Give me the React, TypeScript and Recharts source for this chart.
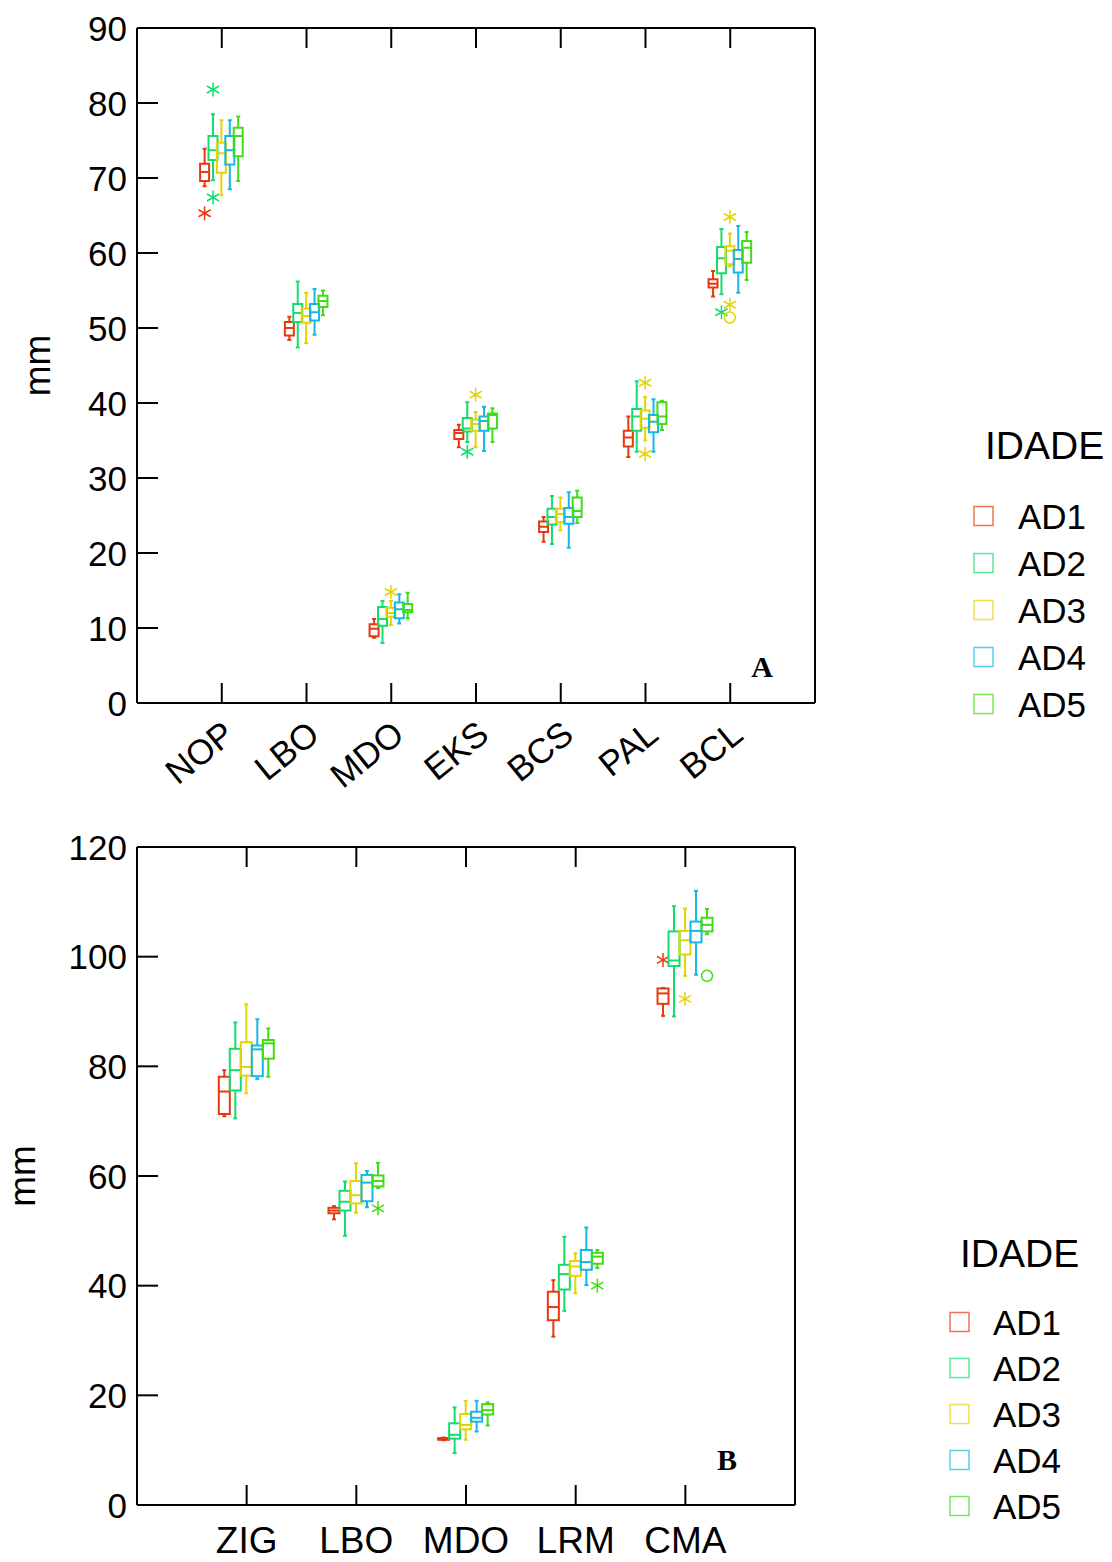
import React from "react";
import { BarChart, Bar, XAxis, YAxis } from "recharts";

const FONT = '"Liberation Sans", Arial, Helvetica, sans-serif';

const series = ["AD1", "AD2", "AD3", "AD4", "AD5"];
const colors = ["#E8380E", "#14DC6E", "#E6D400", "#14B8E6", "#40DC14"];

// Panel A -------------------------------------------------------------
const catsA = ["NOP", "LBO", "MDO", "EKS", "BCS", "PAL", "BCL"];
const ticksA = [0, 10, 20, 30, 40, 50, 60, 70, 80, 90];

// [min, q1, median, q3, max] for each category
const ad1A = [
  [68.9, 69.6, 70.8, 71.9, 73.9],
  [48.4, 49.0, 50.0, 50.8, 51.5],
  [8.7, 8.9, 9.9, 10.5, 11.2],
  [34.1, 35.2, 36.0, 36.4, 37.1],
  [21.5, 22.8, 23.5, 24.2, 24.8],
  [32.8, 34.2, 35.4, 36.3, 38.2],
  [54.2, 55.4, 55.9, 56.5, 57.6],
];
const ad2A = [
  [69.7, 72.4, 73.7, 75.6, 78.5],
  [47.4, 50.8, 52.0, 53.2, 56.2],
  [8.0, 10.3, 11.2, 12.8, 13.6],
  [34.8, 36.2, 36.6, 38.0, 40.1],
  [21.2, 23.8, 24.8, 25.9, 27.6],
  [33.5, 36.3, 38.2, 39.2, 42.9],
  [54.5, 57.3, 59.3, 60.8, 63.2],
];
const ad3A = [
  [67.7, 70.7, 73.3, 74.7, 77.7],
  [48.0, 50.7, 51.6, 52.6, 54.7],
  [10.4, 11.5, 12.0, 12.7, 13.6],
  [34.1, 36.3, 37.2, 37.8, 38.8],
  [23.0, 24.1, 25.2, 25.9, 27.4],
  [35.0, 36.7, 37.9, 39.0, 40.8],
  [58.2, 58.5, 60.3, 60.9, 62.6],
];
const ad4A = [
  [68.5, 71.8, 73.7, 75.6, 77.7],
  [49.1, 51.0, 52.1, 53.2, 55.2],
  [10.6, 11.3, 12.5, 13.4, 14.5],
  [33.6, 36.3, 37.6, 38.2, 39.5],
  [20.7, 23.9, 24.8, 26.0, 28.1],
  [33.5, 36.1, 37.5, 38.4, 40.5],
  [54.7, 57.4, 59.2, 60.4, 63.6],
];
const ad5A = [
  [69.6, 72.9, 75.6, 76.7, 78.2],
  [51.7, 52.8, 53.6, 54.3, 55.0],
  [11.3, 12.1, 12.4, 13.2, 14.7],
  [34.8, 36.6, 38.4, 38.6, 39.3],
  [24.0, 24.8, 25.6, 27.4, 28.3],
  [36.4, 37.2, 38.2, 40.1, 40.3],
  [56.4, 58.7, 60.7, 61.6, 62.8],
];
// [series index, category index, value, marker]
const outliersA = [
  [0, 0, 65.3, "star"],
  [1, 0, 81.8, "star"],
  [1, 0, 67.4, "star"],
  [2, 2, 14.8, "star"],
  [1, 3, 33.5, "star"],
  [2, 3, 41.1, "star"],
  [2, 5, 42.7, "star"],
  [2, 5, 33.2, "star"],
  [1, 6, 52.1, "star"],
  [2, 6, 64.8, "star"],
  [2, 6, 53.1, "star"],
  [2, 6, 51.4, "circle"],
];

// Panel B -------------------------------------------------------------
const catsB = ["ZIG", "LBO", "MDO", "LRM", "CMA"];
const ticksB = [0, 20, 40, 60, 80, 100, 120];

const ad1B = [
  [70.9, 71.3, 75.4, 78.1, 79.3],
  [52.1, 53.2, 53.7, 54.2, 54.5],
  [11.8, 11.9, 12.0, 12.2, 12.3],
  [30.7, 33.7, 36.1, 38.9, 41.0],
  [89.2, 91.4, 93.3, 94.2, 94.3],
];
const ad2B = [
  [70.5, 75.6, 79.3, 83.2, 88.0],
  [49.1, 53.7, 55.3, 57.3, 59.0],
  [9.5, 12.1, 12.8, 14.9, 17.8],
  [35.4, 39.3, 42.1, 43.8, 48.9],
  [89.1, 98.3, 99.3, 104.6, 109.2],
];
const ad3B = [
  [75.1, 78.3, 79.9, 84.4, 91.3],
  [53.3, 55.0, 56.5, 59.1, 62.3],
  [11.9, 13.8, 14.6, 16.6, 19.0],
  [38.6, 41.8, 43.5, 44.5, 45.9],
  [96.5, 100.4, 103.0, 104.7, 108.8],
];
const ad4B = [
  [77.7, 78.2, 83.1, 83.8, 88.6],
  [54.3, 55.4, 58.8, 60.2, 60.9],
  [13.4, 15.2, 15.9, 17.0, 19.0],
  [40.1, 42.9, 44.3, 46.5, 50.6],
  [96.7, 102.6, 104.7, 106.4, 112.0],
];
const ad5B = [
  [78.1, 81.4, 84.2, 84.8, 86.9],
  [57.8, 58.1, 59.1, 60.1, 62.4],
  [14.5, 16.5, 17.3, 18.4, 18.7],
  [43.2, 44.0, 45.3, 46.0, 46.5],
  [104.1, 104.6, 105.8, 107.1, 108.7],
];
const outliersB = [
  [4, 1, 54.1, "star"],
  [4, 3, 40.0, "star"],
  [0, 4, 99.4, "star"],
  [2, 4, 92.3, "star"],
  [4, 4, 96.5, "circle"],
];

function buildRows(cats: string[], boxes: number[][][], outs: any[]) {
  return cats.map((cat, i) => {
    const row: any = { cat };
    series.forEach((s, si) => {
      row[s] = boxes[si][i];
      row["o_" + s] = outs.filter((o) => o[0] === si && o[1] === i).map((o) => [o[2], o[3]]);
    });
    return row;
  });
}

const rowsA = buildRows(catsA, [ad1A, ad2A, ad3A, ad4A, ad5A], outliersA);
const rowsB = buildRows(catsB, [ad1B, ad2B, ad3B, ad4B, ad5B], outliersB);

// box drawn inside the range bar [min, max]; other values use the same linear scale
function BoxShape(props: any) {
  const { x, y, width, height, payload, sk, color, boxW } = props;
  const b = payload && payload[sk];
  if (!b) return null;
  const [mn, q1, md, q3, mx] = b;
  const top = Math.min(y, y + height);
  const h = Math.abs(height);
  const py = (v: number) => (mx === mn ? top : top + ((mx - v) / (mx - mn)) * h);
  const cx = x + width / 2;
  const hw = boxW / 2;
  const outs = payload["o_" + sk] || [];
  return (
    <g>
      <line x1={cx} x2={cx} y1={py(mx)} y2={py(q3)} stroke={color} strokeWidth={2} />
      <line x1={cx} x2={cx} y1={py(q1)} y2={py(mn)} stroke={color} strokeWidth={2} />
      <line x1={cx - 2} x2={cx + 2} y1={py(mx)} y2={py(mx)} stroke={color} strokeWidth={2} />
      <line x1={cx - 2} x2={cx + 2} y1={py(mn)} y2={py(mn)} stroke={color} strokeWidth={2} />
      <rect x={cx - hw} y={py(q3)} width={boxW} height={Math.max(py(q1) - py(q3), 1)} fill="none" stroke={color} strokeWidth={2} />
      <line x1={cx - hw} x2={cx + hw} y1={py(md)} y2={py(md)} stroke={color} strokeWidth={2} />
      {outs.map((o: any, i: number) => {
        const oy = py(o[0]);
        if (o[1] === "circle") {
          return <circle key={i} cx={cx} cy={oy} r={5.5} fill="none" stroke={color} strokeWidth={1.5} />;
        }
        const r = 7;
        const dx = r * Math.cos(Math.PI / 6);
        const dy = r * Math.sin(Math.PI / 6);
        return (
          <g key={i} stroke={color} strokeWidth={1.5}>
            <line x1={cx} x2={cx} y1={oy - r} y2={oy + r} />
            <line x1={cx - dx} x2={cx + dx} y1={oy - dy} y2={oy + dy} />
            <line x1={cx - dx} x2={cx + dx} y1={oy + dy} y2={oy - dy} />
          </g>
        );
      })}
    </g>
  );
}

const LeftTick = (p: any) => (
  <g>
    <line x1={p.x + 10} x2={p.x + 31} y1={p.y} y2={p.y} stroke="#000" strokeWidth={2} />
    <text x={p.x} y={p.y} dy="0.36em" textAnchor="end" fontSize={35} fontFamily={FONT} fill="#000">
      {p.payload.value}
    </text>
  </g>
);

const RightTick = (p: any) => (
  <line x1={p.x - 20} x2={p.x} y1={p.y} y2={p.y} stroke="#000" strokeWidth={2} />
);

const TopTick = (p: any) => (
  <line x1={p.x} x2={p.x} y1={p.y} y2={p.y + 20} stroke="#000" strokeWidth={2} />
);

const BottomTickA = (p: any) => {
  const ax = p.x + 15;
  const ay = p.y + 35;
  return (
    <g>
      <line x1={p.x} x2={p.x} y1={p.y} y2={p.y - 20} stroke="#000" strokeWidth={2} />
      <text x={ax} y={ay} transform={`rotate(-39 ${ax} ${ay})`} textAnchor="end" fontSize={35} fontFamily={FONT} fill="#000">
        {p.payload.value}
      </text>
    </g>
  );
};

const BottomTickB = (p: any) => (
  <g>
    <line x1={p.x} x2={p.x} y1={p.y} y2={p.y - 20} stroke="#000" strokeWidth={2} />
    <text x={p.x} y={p.y + 48} textAnchor="middle" fontSize={37} fontFamily={FONT} fill="#000">
      {p.payload.value}
    </text>
  </g>
);

const mmLabel = (shift: number) => (p: any) => {
  const vb = p.viewBox || {};
  const cx = vb.x - shift;
  const cy = vb.y + vb.height / 2;
  return (
    <text x={cx} y={cy} dy="0.27em" transform={`rotate(-90 ${cx} ${cy})`} textAnchor="middle" fontSize={37} fontFamily={FONT} fill="#000">
      mm
    </text>
  );
};

function BoxPanel(props: any) {
  const { rows, ticks, domain, width, height, margin, pad, barSize, boxW, bottomTick, xHeight, mmShift } = props;
  return (
    <BarChart width={width} height={height} data={rows} margin={margin} barGap={0}>
      <XAxis
        dataKey="cat"
        interval={0}
        padding={{ left: pad, right: pad }}
        height={xHeight}
        tickSize={0}
        tickMargin={0}
        tickLine={false}
        axisLine={{ stroke: "#000", strokeWidth: 2 }}
        tick={bottomTick}
      />
      <XAxis
        xAxisId="top"
        orientation="top"
        dataKey="cat"
        interval={0}
        padding={{ left: pad, right: pad }}
        height={10}
        tickSize={0}
        tickMargin={0}
        tickLine={false}
        axisLine={{ stroke: "#000", strokeWidth: 2 }}
        tick={TopTick}
      />
      <YAxis
        type="number"
        domain={domain}
        ticks={ticks}
        interval={0}
        width={60}
        tickSize={0}
        tickMargin={10}
        tickLine={false}
        axisLine={{ stroke: "#000", strokeWidth: 2 }}
        tick={LeftTick}
        label={{ content: mmLabel(mmShift) }}
      />
      <YAxis
        yAxisId="right"
        orientation="right"
        type="number"
        domain={domain}
        ticks={ticks}
        interval={0}
        width={10}
        tickSize={0}
        tickMargin={0}
        tickLine={false}
        axisLine={{ stroke: "#000", strokeWidth: 2 }}
        tick={RightTick}
      />
      {series.map((s, i) => (
        <Bar
          key={s}
          name={s}
          dataKey={(r: any) => [r[s][0], r[s][4]]}
          barSize={barSize}
          fill={colors[i]}
          isAnimationActive={false}
          shape={(p: any) => <BoxShape {...p} sk={s} color={colors[i]} boxW={boxW} />}
        />
      ))}
    </BarChart>
  );
}

function LegendBlock({ titleX, titleY, sqX, textX, rowY, step }: any) {
  return (
    <g fontFamily={FONT} fill="#000">
      <text x={titleX} y={titleY} dy="0.36em" fontSize={39}>
        IDADE
      </text>
      {series.map((s, i) => (
        <g key={s}>
          <rect x={sqX} y={rowY + i * step - 9.5} width={19} height={19} fill="none" stroke={colors[i]} strokeOpacity={0.7} strokeWidth={1.5} />
          <text x={textX} y={rowY + i * step} dy="0.36em" fontSize={35}>
            {s}
          </text>
        </g>
      ))}
    </g>
  );
}

export default function App() {
  return (
    <div style={{ position: "absolute", left: 0, top: 0, width: 1112, height: 1562, background: "#fff" }}>
      <div style={{ position: "absolute", left: 0, top: 0 }}>
        <BoxPanel
          rows={rowsA}
          ticks={ticksA}
          domain={[0, 90]}
          width={830}
          height={800}
          margin={{ top: 18, right: 5, bottom: 7, left: 77 }}
          pad={42.4}
          barSize={8.4}
          boxW={9}
          xHeight={90}
          bottomTick={BottomTickA}
          mmShift={37}
        />
      </div>
      <div style={{ position: "absolute", left: 0, top: 800 }}>
        <BoxPanel
          rows={rowsB}
          ticks={ticksB}
          domain={[0, 120]}
          width={830}
          height={762}
          margin={{ top: 37, right: 25, bottom: 7, left: 77 }}
          pad={54.8}
          barSize={11}
          boxW={11}
          xHeight={50}
          bottomTick={BottomTickB}
          mmShift={52}
        />
      </div>
      <svg width={1112} height={1562} style={{ position: "absolute", left: 0, top: 0, pointerEvents: "none" }}>
        <LegendBlock titleX={985} titleY={445} sqX={974} textX={1018} rowY={516} step={47} />
        <LegendBlock titleX={960} titleY={1253} sqX={950} textX={993} rowY={1322} step={46} />
        <text x={762} y={677} textAnchor="middle" fontSize={30} fontWeight="bold" fontFamily='"Liberation Serif", "Times New Roman", serif'>
          A
        </text>
        <text x={727} y={1470} textAnchor="middle" fontSize={30} fontWeight="bold" fontFamily='"Liberation Serif", "Times New Roman", serif'>
          B
        </text>
      </svg>
    </div>
  );
}
